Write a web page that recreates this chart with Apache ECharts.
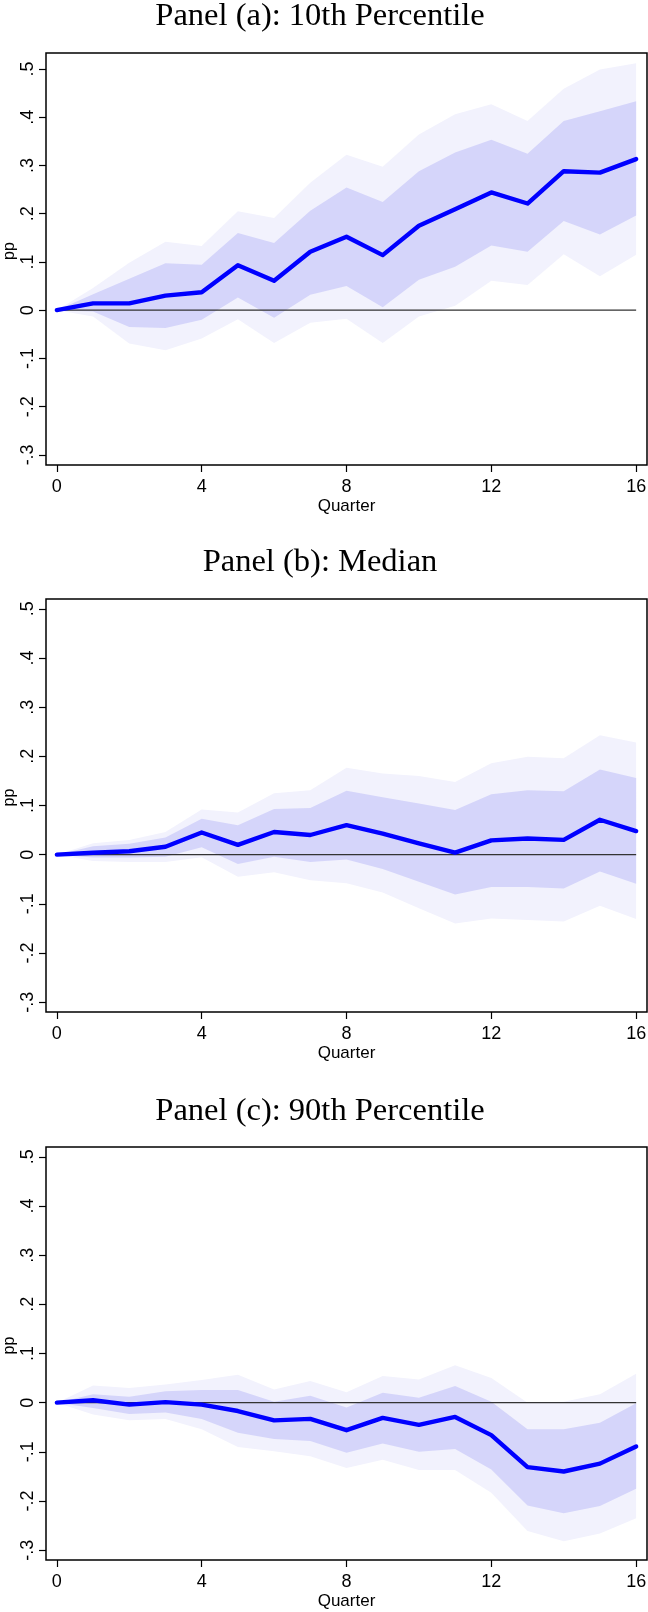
<!DOCTYPE html>
<html>
<head>
<meta charset="utf-8">
<script src="https://cdn.jsdelivr.net/npm/echarts@6/dist/echarts.min.js"></script>
<style>
  html, body { margin: 0; padding: 0; background: #fff; }
  #main { width: 648px; height: 1612px; }
</style>
</head>
<body>
<div id="main"></div>
<script>
// quarters after the shock
var quarters = [0, 1, 2, 3, 4, 5, 6, 7, 8, 9, 10, 11, 12, 13, 14, 15, 16];

// Panel (a): 10th percentile
var aMain    = [0, 0.014, 0.014, 0.030, 0.037, 0.093, 0.061, 0.121, 0.152, 0.114, 0.175, 0.209, 0.244, 0.221, 0.288, 0.285, 0.313];
var aInnerHi = [0, 0.033, 0.065, 0.097, 0.094, 0.160, 0.139, 0.206, 0.254, 0.224, 0.288, 0.327, 0.353, 0.324, 0.392, 0.412, 0.433];
var aInnerLo = [0, -0.003, -0.035, -0.037, -0.020, 0.026, -0.016, 0.032, 0.050, 0.006, 0.063, 0.090, 0.134, 0.121, 0.185, 0.157, 0.196];
var aOuterHi = [0, 0.046, 0.098, 0.142, 0.133, 0.205, 0.191, 0.264, 0.322, 0.297, 0.364, 0.406, 0.427, 0.392, 0.459, 0.499, 0.512];
var aOuterLo = [0, -0.013, -0.069, -0.083, -0.059, -0.019, -0.068, -0.026, -0.018, -0.068, -0.013, 0.009, 0.061, 0.052, 0.116, 0.070, 0.115];

// Panel (b): median
var bMain    = [0, 0.004, 0.007, 0.016, 0.045, 0.020, 0.046, 0.040, 0.060, 0.043, 0.023, 0.004, 0.029, 0.033, 0.030, 0.071, 0.048];
var bInnerHi = [0, 0.017, 0.022, 0.035, 0.073, 0.060, 0.093, 0.095, 0.130, 0.117, 0.104, 0.091, 0.123, 0.131, 0.129, 0.173, 0.156];
var bInnerLo = [0, -0.006, -0.006, -0.004, 0.015, -0.019, -0.004, -0.015, -0.010, -0.029, -0.055, -0.081, -0.066, -0.066, -0.069, -0.034, -0.059];
var bOuterHi = [0, 0.023, 0.030, 0.046, 0.092, 0.086, 0.125, 0.131, 0.177, 0.165, 0.160, 0.148, 0.186, 0.199, 0.196, 0.243, 0.228];
var bOuterLo = [0, -0.013, -0.015, -0.015, -0.005, -0.045, -0.036, -0.052, -0.058, -0.077, -0.109, -0.140, -0.130, -0.133, -0.136, -0.104, -0.131];

// Panel (c): 90th percentile
var cMain    = [0, 0.005, -0.004, 0.001, -0.004, -0.017, -0.036, -0.033, -0.056, -0.031, -0.045, -0.029, -0.066, -0.131, -0.140, -0.124, -0.089];
var cInnerHi = [0, 0.017, 0.012, 0.023, 0.026, 0.026, 0.002, 0.014, -0.010, 0.020, 0.010, 0.034, 0.002, -0.054, -0.054, -0.041, -0.001];
var cInnerLo = [0, -0.011, -0.023, -0.020, -0.033, -0.061, -0.074, -0.078, -0.102, -0.083, -0.100, -0.094, -0.136, -0.209, -0.225, -0.210, -0.175];
var cOuterHi = [0, 0.035, 0.030, 0.037, 0.046, 0.057, 0.027, 0.044, 0.021, 0.054, 0.047, 0.076, 0.050, 0.000, 0.002, 0.017, 0.059];
var cOuterLo = [0, -0.024, -0.036, -0.033, -0.054, -0.090, -0.099, -0.109, -0.133, -0.116, -0.137, -0.137, -0.183, -0.261, -0.282, -0.266, -0.235];

var titles = ['Panel (a): 10th Percentile', 'Panel (b): Median', 'Panel (c): 90th Percentile'];
var yTicks = [-0.3, -0.2, -0.1, 0, 0.1, 0.2, 0.3, 0.4, 0.5];
var xTicks = [0, 4, 8, 12, 16];

var panels = [
  { main: aMain, innerHi: aInnerHi, innerLo: aInnerLo, outerHi: aOuterHi, outerLo: aOuterLo },
  { main: bMain, innerHi: bInnerHi, innerLo: bInnerLo, outerHi: bOuterHi, outerLo: bOuterLo },
  { main: cMain, innerHi: cInnerHi, innerLo: cInnerLo, outerHi: cOuterHi, outerLo: cOuterLo }
];

// frame placement of each panel (pixels) and y range
var layout = [
  { titleTop: 0,    top: 53,   height: 412, ymin: -0.321, ymax: 0.533 },
  { titleTop: 546,  top: 599,  height: 413, ymin: -0.320, ymax: 0.520 },
  { titleTop: 1095, top: 1147, height: 413, ymin: -0.320, ymax: 0.520 }
];

var sans = 'Liberation Sans, Arial, sans-serif';

function pairs(ys) {
  return quarters.map(function (q, i) { return [q, ys[i]]; });
}
function bandRows(lo, hi) {
  return quarters.map(function (q, i) { return [q, lo[i], hi[i]]; });
}
function fmtY(v) {
  var r = Math.round(v * 10) / 10;
  if (r === 0) return '0';
  return (r < 0 ? '-' : '') + String(Math.abs(r)).replace(/^0/, '');
}
// whole band as one polygon, drawn when the first row is rendered
function bandRenderer(lo, hi, color) {
  return function (params, api) {
    if (params.dataIndex !== 0) return;
    var pts = [];
    for (var i = 0; i < quarters.length; i++) pts.push(api.coord([quarters[i], hi[i]]));
    for (var j = quarters.length - 1; j >= 0; j--) pts.push(api.coord([quarters[j], lo[j]]));
    return { type: 'polygon', shape: { points: pts }, style: { fill: color } };
  };
}

var myChart = echarts.init(document.getElementById('main'), null, { renderer: 'canvas' });

var title = [], grid = [], xAxis = [], yAxis = [], series = [];

panels.forEach(function (p, k) {
  var L = layout[k];
  title.push({
    text: titles[k],
    left: 320,
    textAlign: 'center',
    top: L.titleTop,
    padding: 0,
    textStyle: { fontFamily: 'Liberation Serif, Times New Roman, serif', fontSize: 32.5, fontWeight: 'normal', color: '#000', lineHeight: 32 }
  });
  grid.push({
    left: 46, right: 1, top: L.top, height: L.height,
    containLabel: false, outerBoundsMode: 'none',
    show: true, borderColor: '#000', borderWidth: 1.5, backgroundColor: 'transparent'
  });
  xAxis.push({
    gridIndex: k, type: 'value', min: -0.3, max: 16.3,
    axisLine: { show: false, onZero: false },
    splitLine: { show: false },
    axisTick: { show: true, customValues: xTicks, length: 7, lineStyle: { color: '#000', width: 1.2 } },
    axisLabel: { customValues: xTicks, margin: 13, fontSize: 18, fontFamily: sans, color: '#000' },
    name: 'Quarter', nameLocation: 'middle', nameGap: 33, nameMoveOverlap: false,
    nameTextStyle: { fontSize: 17, fontFamily: sans, color: '#000' }
  });
  yAxis.push({
    gridIndex: k, type: 'value', min: L.ymin, max: L.ymax,
    axisLine: { show: false, onZero: false },
    splitLine: { show: false },
    axisTick: { show: true, customValues: yTicks, length: 7, lineStyle: { color: '#000', width: 1.2 } },
    axisLabel: { customValues: yTicks, rotate: 90, margin: 9, fontSize: 18, fontFamily: sans, color: '#000', formatter: fmtY },
    name: 'pp', nameLocation: 'middle', nameGap: 28, nameMoveOverlap: false,
    nameTextStyle: { fontSize: 16, fontFamily: sans, color: '#000', padding: [0, 0, 0, 16] }
  });

  var axes = { xAxisIndex: k, yAxisIndex: k, silent: true };

  // outer (lighter) band
  series.push(Object.assign({}, axes, {
    type: 'custom', data: bandRows(p.outerLo, p.outerHi), encode: { x: 0, y: [1, 2] },
    renderItem: bandRenderer(p.outerLo, p.outerHi, '#F2F2FD'), clip: true
  }));
  // inner (darker) band
  series.push(Object.assign({}, axes, {
    type: 'custom', data: bandRows(p.innerLo, p.innerHi), encode: { x: 0, y: [1, 2] },
    renderItem: bandRenderer(p.innerLo, p.innerHi, '#D5D5FA'), clip: true
  }));
  // zero reference line
  series.push(Object.assign({}, axes, {
    type: 'line', symbol: 'none',
    data: pairs(quarters.map(function () { return 0; })),
    lineStyle: { color: '#333', width: 1.2 }
  }));
  // point estimate
  series.push(Object.assign({}, axes, {
    type: 'line', symbol: 'none',
    data: pairs(p.main),
    lineStyle: { color: '#0000FF', width: 4.4, join: 'round', cap: 'round' }
  }));
});

myChart.setOption({
  animation: false,
  backgroundColor: '#fff',
  title: title,
  grid: grid,
  xAxis: xAxis,
  yAxis: yAxis,
  series: series
});
</script>
</body>
</html>
